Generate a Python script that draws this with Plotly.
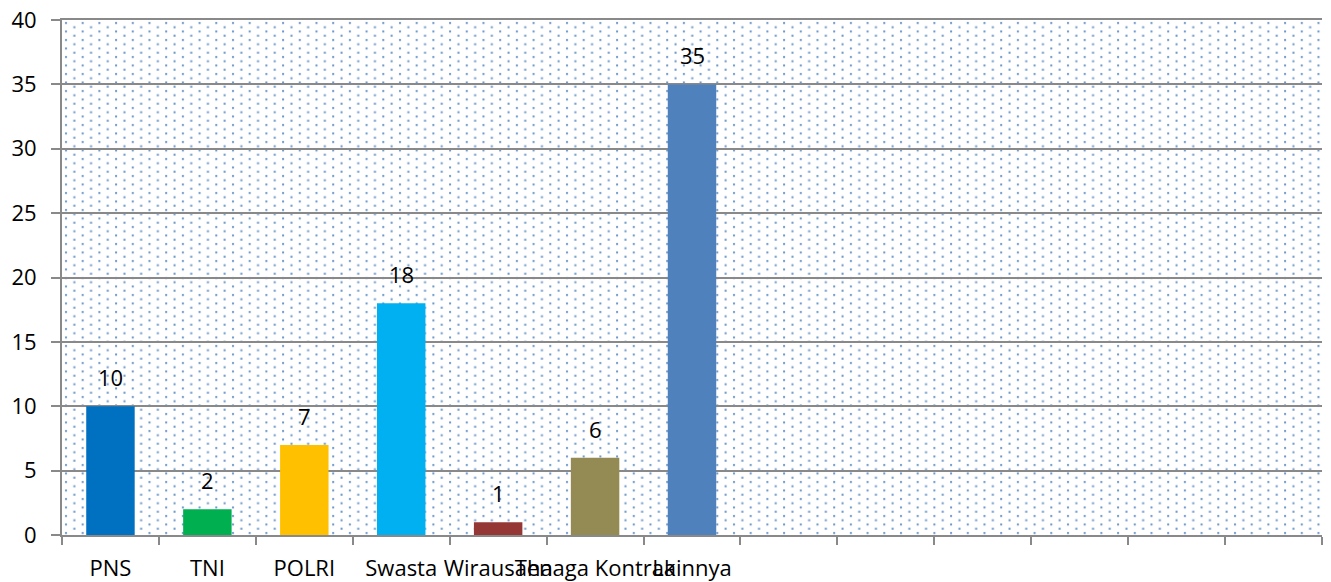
"""Bar chart: jumlah per jenis pekerjaan (Excel-style dotted plot area)."""
import base64

import plotly.graph_objects as go

# data
categories = ["PNS", "TNI", "POLRI", "Swasta", "Wirausaha", "Tenaga Kontrak", "Lainnya"]
values = [10, 2, 7, 18, 1, 6, 35]
bar_colors = ["#0070C0", "#00B050", "#FFC000", "#00B0F0", "#953735", "#948A54", "#4F81BD"]
n_slots = 13                      # the category axis has 13 slots, only 7 used
y_ticks = list(range(0, 41, 5))

GRID = "#898989"
FONT = "Open Sans"
FSIZE = 22

# the page body has an 8px margin, so the figure is 8px smaller than the window
W, H = 1323, 574

# dotted fill for the plot area, as in the Excel original
PW, PH = 1260, 515
svg = (f'<svg xmlns="http://www.w3.org/2000/svg" width="{PW}" height="{PH}">'
       '<defs><pattern id="d" width="16.7" height="8.5" patternUnits="userSpaceOnUse">'
       '<rect x="3" y="2" width="2" height="2" fill="#4F81BD" fill-opacity="0.85"/>'
       '<rect x="11.35" y="6.25" width="2" height="2" fill="#4F81BD" fill-opacity="0.85"/>'
       '</pattern></defs>'
       f'<rect width="{PW}" height="{PH}" fill="url(#d)"/></svg>')
bg_src = "data:image/svg+xml;base64," + base64.b64encode(svg.encode()).decode()

xs = list(range(len(categories)))

fig = go.Figure()
fig.add_trace(go.Bar(x=xs, y=values, width=0.5, marker_color=bar_colors,
                     marker_line_width=0, showlegend=False, hoverinfo="y"))

for x, v in zip(xs, values):
    fig.add_annotation(x=x, y=v, text=str(v), showarrow=False, yanchor="bottom",
                       yshift=12, font=dict(family=FONT, size=FSIZE, color="#000"))

fig.update_layout(
    width=W, height=H, paper_bgcolor="white", plot_bgcolor="rgba(0,0,0,0)",
    margin=dict(l=54, r=9, t=12, b=47),
    font=dict(family=FONT, size=FSIZE, color="#000"),
    images=[dict(source=bg_src, xref="paper", yref="paper", x=0, y=1,
                 sizex=1, sizey=1, xanchor="left", yanchor="top",
                 sizing="stretch", layer="below")],
    # mirror=True draws the top border line, standing in for the 40 gridline
    xaxis=dict(range=[-0.5, n_slots - 0.5], tickmode="array", tickvals=xs,
               ticktext=categories, ticks="", tickangle=0, showgrid=False,
               zeroline=False, showline=True, mirror=True, linecolor=GRID,
               linewidth=2, ticklabelstandoff=13, automargin=False,
               ticklabeloverflow="allow",
               minor=dict(tick0=-0.5, dtick=1, ticks="outside", ticklen=8,
                          tickwidth=2, tickcolor=GRID, showgrid=False)),
    yaxis=dict(range=[0, 40], tickvals=y_ticks, showgrid=True, gridcolor=GRID,
               gridwidth=2, zeroline=False, showline=True, linecolor=GRID,
               linewidth=2, ticks="outside", ticklen=9, tickwidth=2,
               tickcolor=GRID, ticklabelstandoff=10, automargin=False,
               ticklabeloverflow="allow"),
)

fig.write_html("out.html")
